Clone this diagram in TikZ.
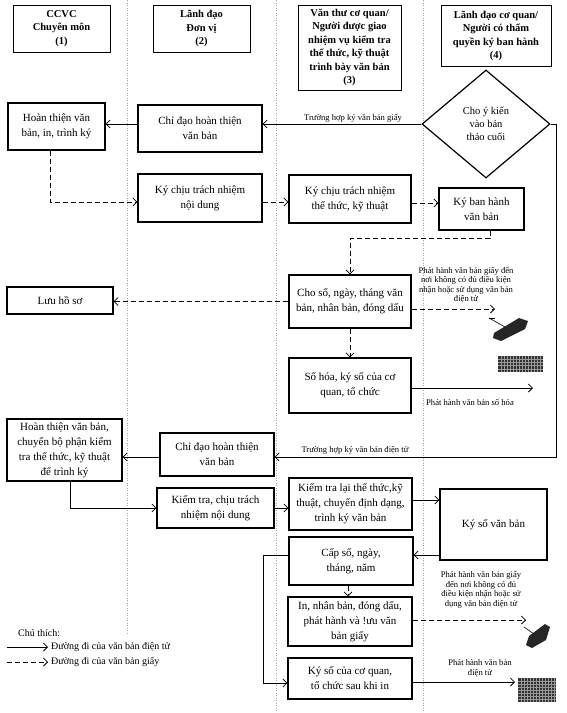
\documentclass[tikz,border=0pt]{standalone}
\usepackage{fontspec}
\setmainfont{Liberation Serif}
\usetikzlibrary{shapes.geometric,arrows.meta}
\begin{document}
\begin{tikzpicture}[x=1pt,y=-1pt,
  box/.style={draw,line width=1.2pt,align=center,inner sep=0pt,font=\fontsize{11}{15}\selectfont},
  hdr/.style={draw,line width=0.8pt,align=center,inner sep=0pt,font=\bfseries\fontsize{10.5}{13.5}\selectfont},
  flow/.style={line width=0.8pt,-{Straight Barb[length=4pt,width=8pt]}},
  paper/.style={flow,dash pattern=on 5pt off 3pt},
  lbl/.style={font=\fontsize{8.6}{9.6}\selectfont,align=center,inner sep=0pt},
  legtxt/.style={font=\fontsize{10}{12}\selectfont,anchor=west,inner sep=0pt},
  divider/.style={gray!70,line width=0.5pt,dash pattern=on 1pt off 1.5pt},
  icon/.style={fill=black!85}
]
\useasboundingbox (0,0) rectangle (566,713);
\fill[white] (0,0) rectangle (566,713);

% column dividers
\draw[divider] (127,0) -- (127,633);
\draw[divider] (276,0) -- (276,713);
\draw[divider] (423,0) -- (423,713);

% headers
\node[hdr,minimum width=97pt,minimum height=47pt] (h1) at (61.5,28.5) {CCVC\\Chuyên môn\\(1)};
\node[hdr,minimum width=97pt,minimum height=47pt] (h2) at (201.5,28.5) {Lãnh đạo\\Đơn vị\\(2)};
\node[hdr,minimum width=103pt,minimum height=85pt] (h3) at (349.5,47.5) {Văn thư cơ quan/\\Người được giao\\nhiệm vụ kiểm tra\\thể thức, kỹ thuật\\trình bày văn bản\\(3)};
\node[hdr,minimum width=110pt,minimum height=61pt] (h4) at (496,36) {Lãnh đạo cơ quan/\\Người có thẩm\\quyền ký ban hành\\(4)};

% decision
\node[draw,diamond,line width=1.2pt,minimum width=128pt,minimum height=108pt,inner sep=0pt,align=center,font=\fontsize{10.5}{13}\selectfont] (d) at (486,124) {Cho ý kiến\\vào bản\\thảo cuối};

% boxes
\node[box,minimum width=97pt,minimum height=47pt] (a1) at (56.5,126.5) {Hoàn thiện văn\\bản, in, trình ký};
\node[box,minimum width=124pt,minimum height=47pt] (b1) at (200,128.5) {Chỉ đạo hoàn thiện\\văn bản};
\node[box,minimum width=124pt,minimum height=48pt] (b2) at (200,198) {Ký chịu trách nhiệm\\nội dung};
\node[box,minimum width=122pt,minimum height=48pt] (c1) at (350,199) {Ký chịu trách nhiệm\\thể thức, kỹ thuật};
\node[box,minimum width=85pt,minimum height=42pt] (e1) at (481.5,209) {Ký ban hành\\văn bản};
\node[box,minimum width=122pt,minimum height=53pt] (c2) at (350,301.5) {Cho số, ngày, tháng văn\\bản, nhân bản, đóng dấu};
\node[box,minimum width=106pt,minimum height=27pt] (a2) at (60,300.5) {Lưu hồ sơ};
\node[box,minimum width=122pt,minimum height=55pt] (c3) at (350,385.5) {Số hóa, ký số của cơ\\quan, tổ chức};
\node[box,minimum width=115pt,minimum height=62pt] (a3) at (64.5,450) {Hoàn thiện văn bản,\\chuyển bộ phận kiểm\\tra thể thức, kỹ thuật\\để trình ký};
\node[box,minimum width=114pt,minimum height=43pt] (b3) at (217,454.5) {Chỉ đạo hoàn thiện\\văn bản};
\node[box,minimum width=117pt,minimum height=40pt] (b4) at (215.5,508) {Kiểm tra, chịu trách\\nhiệm nội dung};
\node[box,minimum width=123pt,minimum height=52pt] (c4) at (350.5,504) {Kiểm tra lại thể thức,kỹ\\thuật, chuyển định dạng,\\trình ký văn bản};
\node[box,minimum width=107pt,minimum height=71pt] (e2) at (493.5,524.5) {Ký số văn bản};
\node[box,minimum width=124pt,minimum height=48pt] (c5) at (351,561) {Cấp số, ngày,\\tháng, năm};
\node[box,minimum width=124pt,minimum height=49pt] (c6) at (350,621.5) {In, nhân bản, đóng dấu,\\phát hành và !ưu văn\\bản giấy};
\node[box,minimum width=124pt,minimum height=41pt] (c7) at (350,678.5) {Ký số của cơ quan,\\tổ chức sau khi in};

% connectors - top part
\draw[flow] (d.west) -- (d.west -| b1.east);
\node[lbl] (l1) at (353,118) {Trường hợp ký văn bản giấy};
\draw[flow] (b1.west |- d.west) -- (a1.east |- d.west);
\draw[paper] ([xshift=-6.5pt]a1.south) |- ([yshift=-4pt]b2.west);
\draw[paper] ([yshift=-4pt]b2.east) -- ([yshift=-4pt]b2.east -| c1.west);
\draw[paper] ([yshift=-4pt]c1.east) -- ([yshift=-4pt]c1.east -| e1.west);
\draw[paper] ([xshift=8.5pt]e1.south) -- ++(0,8) -| (c2.north);
\draw[paper] (c2.west) -- (c2.west -| a2.east);
\coordinate (p1) at (495,309);
\draw[paper] (c2.east |- p1) -- (p1);
\node[lbl] (l2) at (466,285) {Phát hành văn bản giấy đến\\nơi không có đủ điều kiện\\nhận hoặc sử dụng văn bản\\điện tử};
\draw[paper] (c2.south) -- (c3.north);
\coordinate (p2) at (533,388);
\draw[flow] (c3.east |- p2) -- (p2);
\node[lbl] (l3) at (470,402) {Phát hành văn bản số hóa};

% electronic branch
\coordinate (r1) at (556,124);
\coordinate (r2) at (556,457);
\draw[flow] (d.east) -- (r1) -- (r2) -- (r2 -| b3.east);
\node[lbl] (l4) at (355,450) {Trường hợp ký văn bản điện tử};
\draw[flow] (b3.west |- r2) -- (a3.east |- r2);
\draw[flow] ([xshift=5.5pt]a3.south) |- (b4.west);
\draw[flow] (b4.east) -- (b4.east -| c4.west);
\draw[flow] ([yshift=4pt]c4.east) -- ([yshift=4pt]c4.east -| e2.west);
\draw[flow] ([yshift=6pt]c5.east -| e2.west) -- ([yshift=6pt]c5.east);
\draw[paper] ([xshift=-3pt]c5.south) -- ([xshift=-3pt]c5.south |- c6.north);
\coordinate (q1) at (263,683);
\draw[flow] ([yshift=6pt]c5.west) -| (q1) -- (q1 -| c7.west);
\coordinate (p3) at (526,620);
\draw[paper] (c6.east |- p3) -- (p3);
\node[lbl] (l5) at (481,590) {Phát hành văn bản giấy\\đến nơi không có đủ\\điều kiện nhận hoặc sử\\dụng văn bản điện tử};
\coordinate (p4) at (515,682);
\draw[flow] (c7.east |- p4) -- (p4);
\node[lbl] (l6) at (480,668) {Phát hành văn bản\\điện tử};

% icons
\fill[icon] (494,333) -- (519,318) -- (528,321) -- (525,329) -- (501,341) -- (493,338) -- cycle;
\draw[line width=0.6pt] (505,327) -- (489,318);
\draw[line width=0.6pt] (489,318) -- (495,318);
\fill[icon] (529,636) -- (545,624) -- (550,627) -- (546,640) -- (532,648) -- (526,645) -- cycle;
\draw[line width=0.6pt] (534,634) -- (524,627);
\fill[black!80] (498,356) rectangle (543,372);
\foreach \i in {1,...,14} \draw[white!60!black,line width=0.3pt] ({498+\i*3},356) -- ({498+\i*3},372);
\foreach \i in {1,...,4} \draw[white!60!black,line width=0.3pt] (498,{356+\i*3.2}) -- (543,{356+\i*3.2});
\fill[black!80] (518,678) rectangle (556,702);
\foreach \i in {1,...,12} \draw[white!60!black,line width=0.3pt] ({518+\i*3},678) -- ({518+\i*3},702);
\foreach \i in {1,...,7} \draw[white!60!black,line width=0.3pt] (518,{678+\i*3}) -- (556,{678+\i*3});

% legend
\node[legtxt] (lg) at (18,633) {Chú thích:};
\coordinate (k1) at (7,647);
\coordinate (k2) at (48,647);
\draw[flow] (k1) -- (k2);
\node[legtxt] (lg1) at (51,647) {Đường đi của văn bản điện tử};
\coordinate (k3) at (7,662);
\coordinate (k4) at (48,662);
\draw[paper] (k3) -- (k4);
\node[legtxt] (lg2) at (51,662) {Đường đi của văn bản giấy};
\end{tikzpicture}
\end{document}
